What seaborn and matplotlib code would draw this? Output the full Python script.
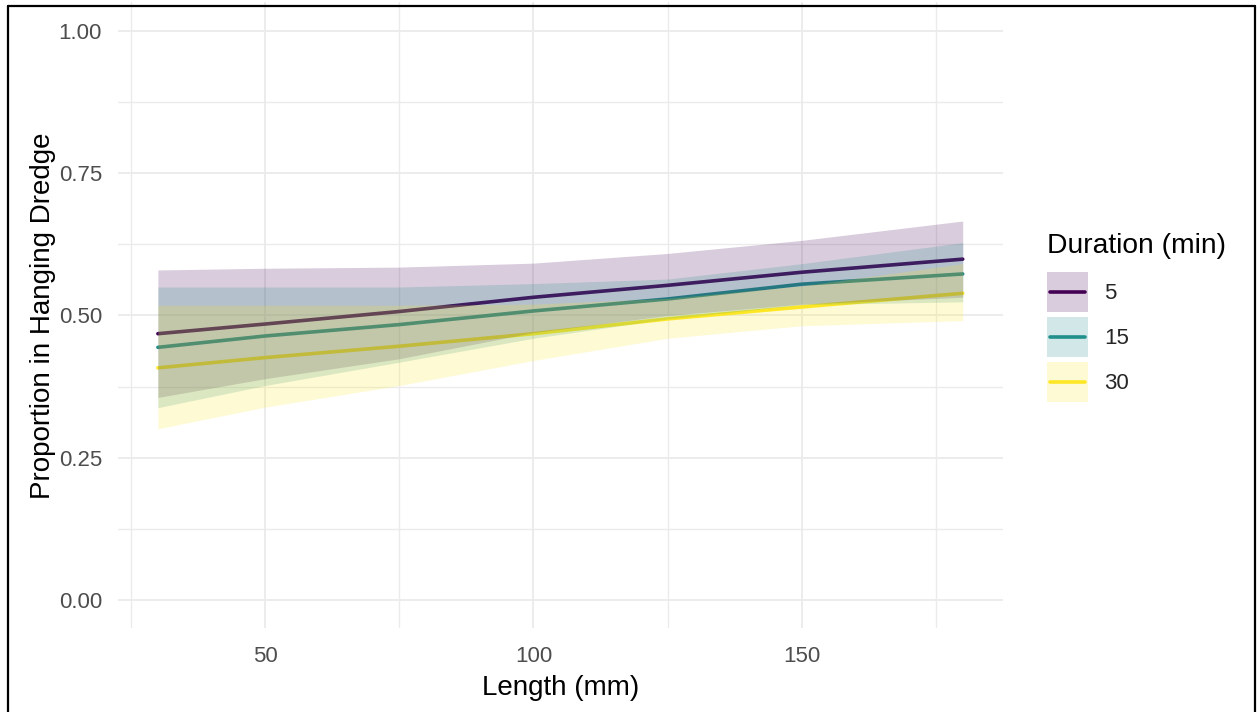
import pandas as pd
import matplotlib
matplotlib.use("Agg")
import matplotlib.pyplot as plt
import seaborn as sns
from matplotlib.patches import Rectangle
from matplotlib.lines import Line2D

# ─────────────────────────────
#  DATA
# ─────────────────────────────
length_mm = [30, 50, 75, 100, 125, 150, 180]
durations = ["5", "15", "30"]

fit_5  = [0.468, 0.485, 0.507, 0.532, 0.553, 0.576, 0.599]
fit_15 = [0.444, 0.464, 0.484, 0.508, 0.529, 0.555, 0.573]
fit_30 = [0.408, 0.426, 0.446, 0.468, 0.494, 0.515, 0.539]

upr_5  = [0.580, 0.583, 0.585, 0.592, 0.609, 0.632, 0.666]
lwr_5  = [0.356, 0.389, 0.424, 0.470, 0.500, 0.520, 0.532]
upr_15 = [0.550, 0.550, 0.550, 0.556, 0.564, 0.591, 0.628]
lwr_15 = [0.338, 0.377, 0.418, 0.460, 0.494, 0.519, 0.524]
upr_30 = [0.518, 0.518, 0.518, 0.520, 0.530, 0.552, 0.591]
lwr_30 = [0.301, 0.339, 0.377, 0.421, 0.460, 0.482, 0.491]

colors = {"5": "#440154", "15": "#21908C", "30": "#FDE725"}

fits = {"5": fit_5, "15": fit_15, "30": fit_30}
bands = {"5": (lwr_5, upr_5), "15": (lwr_15, upr_15), "30": (lwr_30, upr_30)}

df = pd.concat(
    [pd.DataFrame({"length": length_mm, "fit": fits[d], "duration": d}) for d in durations],
    ignore_index=True,
)


# legend key: ribbon fill square with the line across its middle
class KeyHandler:
    def legend_artist(self, legend, orig_handle, fontsize, handlebox):
        x0, y0 = handlebox.xdescent, handlebox.ydescent
        w, h = handlebox.width, handlebox.height
        c = orig_handle.get_color()
        tr = handlebox.get_transform()
        rect = Rectangle((-x0, -y0), w, h, facecolor=c, alpha=0.2,
                         edgecolor="none", transform=tr)
        line = Line2D([-x0 + 2, -x0 + w - 2], [-y0 + h / 2] * 2, color=c,
                      linewidth=2.6, transform=tr)
        handlebox.add_artist(rect)
        handlebox.add_artist(line)
        return rect


# ─────────────────────────────
#  STYLE
# ─────────────────────────────
sns.set_style("white")
plt.rcParams["font.family"] = ["Liberation Sans", "DejaVu Sans"]

fig = plt.figure(figsize=(12.57, 7.12), dpi=100)
ax = fig.add_axes([0.0936, 0.1173, 0.7043, 0.8792])

# lines first, ribbons drawn over them (as in the original)
sns.lineplot(data=df, x="length", y="fit", hue="duration", hue_order=durations,
             palette=colors, linewidth=2.6, estimator=None, sort=False,
             legend=False, ax=ax, zorder=2)

for d in durations:
    lo, hi = bands[d]
    ax.fill_between(length_mm, lo, hi, color=colors[d], alpha=0.2,
                    linewidth=0, zorder=3)

ax.set_xlim(22.5, 187.5)
ax.set_ylim(-0.05, 1.05)
ax.set_xticks([50, 100, 150])
ax.set_xticks([25, 75, 125, 175], minor=True)
ax.set_yticks([0, 0.25, 0.5, 0.75, 1.0])
ax.set_yticklabels(["0.00", "0.25", "0.50", "0.75", "1.00"])
ax.set_yticks([0.125, 0.375, 0.625, 0.875], minor=True)

ax.grid(which="major", color="#EBEBEB", linewidth=1.3)
ax.grid(which="minor", color="#EBEBEB", linewidth=1.0)
ax.set_axisbelow(True)
for s in ax.spines.values():
    s.set_visible(False)

ax.tick_params(axis="both", which="both", length=0, labelsize=16, labelcolor="#4D4D4D")
ax.tick_params(axis="y", pad=11.3)
ax.tick_params(axis="x", pad=12.3)

ax.set_xlabel("Length (mm)", fontsize=20, color="black")
ax.set_ylabel("Proportion in Hanging Dredge", fontsize=20, color="black")
ax.xaxis.set_label_coords(0.5007, -0.074)
ax.yaxis.set_label_coords(-0.0697, 0.5)

# ─────────────────────────────
#  LEGEND
# ─────────────────────────────
fig.text(1047 / 1257, 1 - 253 / 712, "Duration (min)", fontsize=20.3,
         ha="left", va="baseline", color="black")

handles = [Line2D([], [], color=colors[d]) for d in durations]
fig.legend(handles, durations, loc="upper left",
           bbox_to_anchor=(1047 / 1257, 1 - 272 / 712), frameon=False, fontsize=16,
           handlelength=1.85, handleheight=2.39,
           labelspacing=0.225, handletextpad=0.72, borderpad=0,
           borderaxespad=0, handler_map={Line2D: KeyHandler()})

# black frame round the picture (left, top, right)
W, H = 1257, 712
xl, xr, yt = 7.5 / W, 1255 / W, 1 - 5.5 / H
for xs, ys in [([xl, xl], [0, yt]), ([xl, xr], [yt, yt]), ([xr, xr], [0, yt])]:
    fig.add_artist(Line2D(xs, ys, transform=fig.transFigure, color="black", linewidth=1.6))

plt.savefig("out.png", dpi=100, facecolor="white")
